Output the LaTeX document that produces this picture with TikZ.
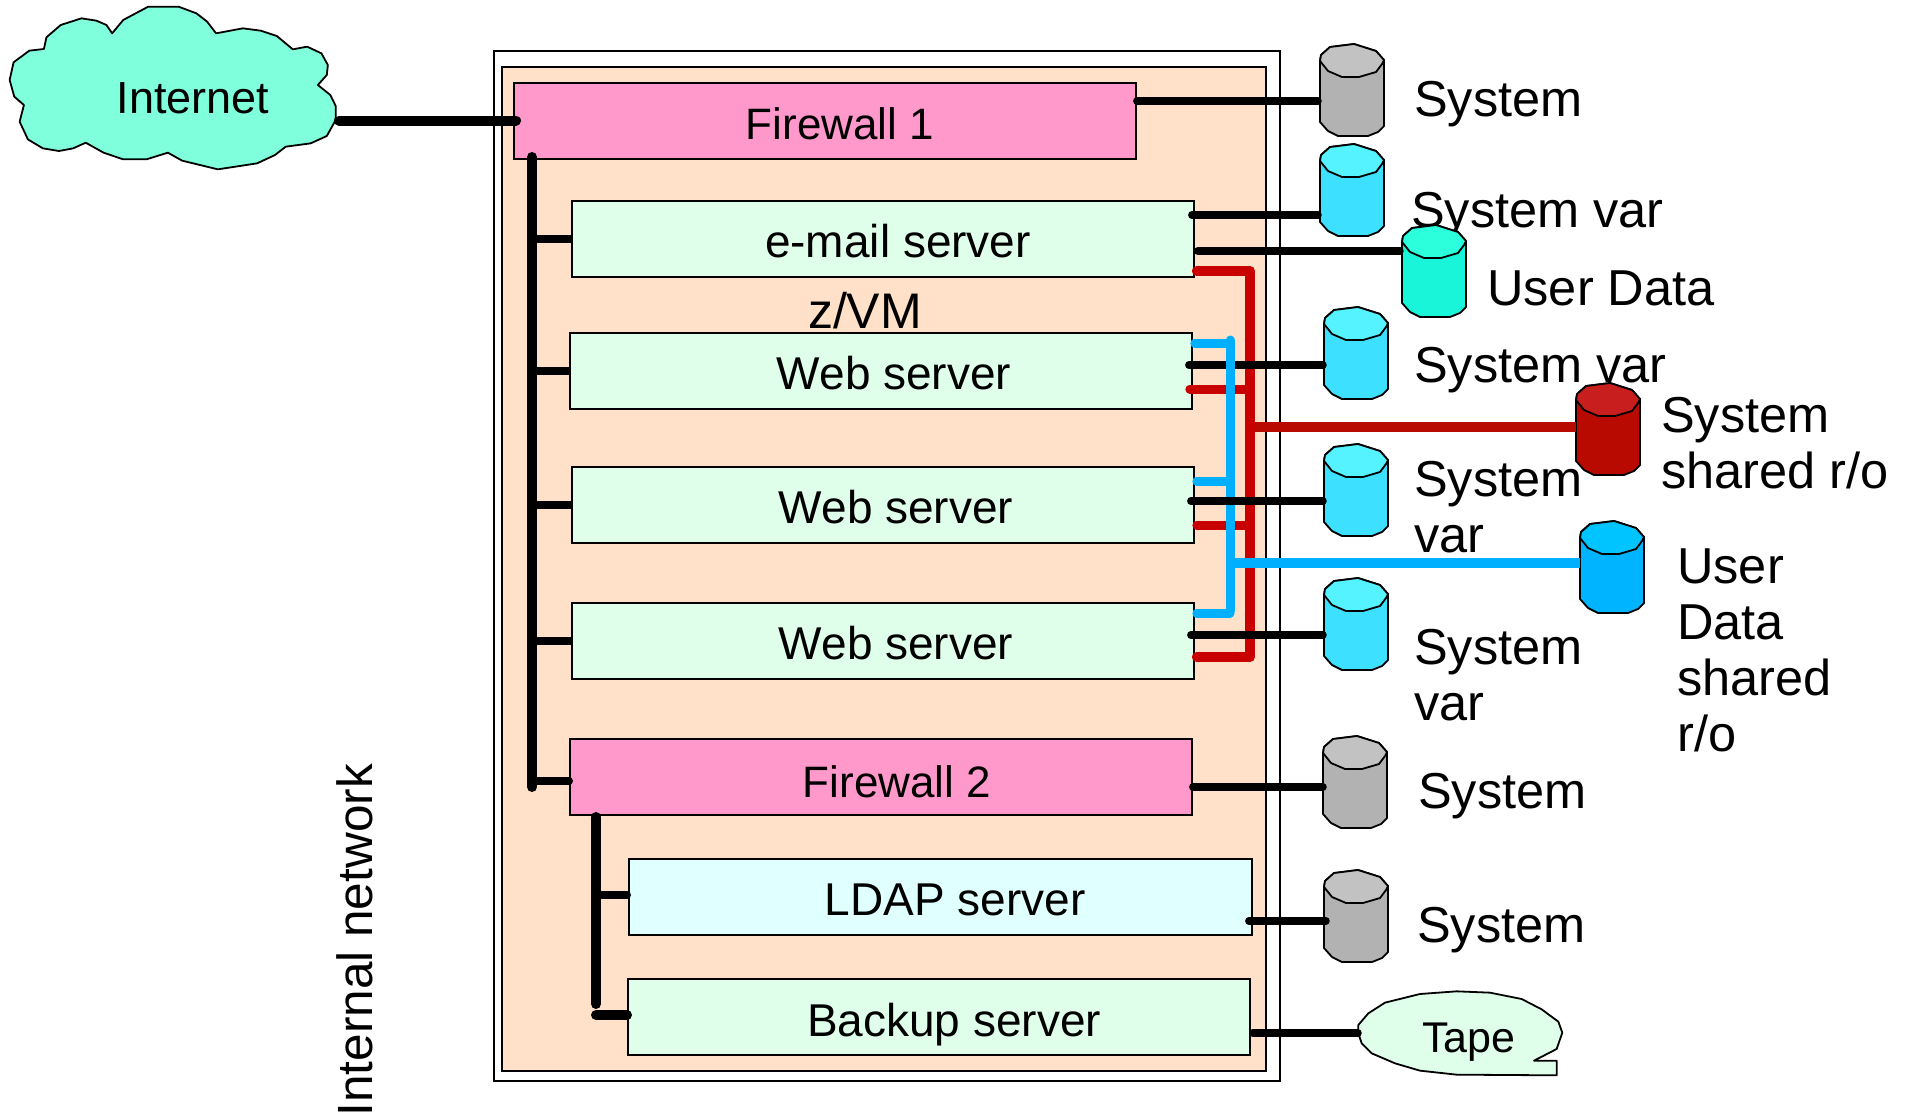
\documentclass[tikz,border=0pt]{standalone}
\usepackage{fontspec}
\setmainfont{Liberation Sans}
\definecolor{peach}{HTML}{FFE0C8}
\definecolor{pinkfw}{HTML}{FF99CC}
\definecolor{mint}{HTML}{E0FFEB}
\definecolor{ice}{HTML}{E0FFFF}
\definecolor{cloudc}{HTML}{80FFDD}
\definecolor{lred}{HTML}{C80000}
\definecolor{dred}{HTML}{B80A00}
\definecolor{lblue}{HTML}{00B0FF}
\definecolor{grayb}{HTML}{B2B2B2}
\definecolor{grayt}{HTML}{C2C2C2}
\definecolor{cyanb}{HTML}{3DE0FF}
\definecolor{cyant}{HTML}{55F2FF}
\definecolor{tealb}{HTML}{18F5D8}
\definecolor{tealt}{HTML}{2CFFDC}
\definecolor{redb}{HTML}{B80A00}
\definecolor{redt}{HTML}{C81E1E}
\definecolor{blueb}{HTML}{00B4FF}
\definecolor{bluet}{HTML}{00C4FF}
\tikzset{
  x=1pt,y=-1pt,
  srv/.style={draw=black,line width=1.8pt,rectangle,inner sep=0pt,anchor=north west,xshift=-1pt,yshift=1pt},
  big/.style={font=\fontsize{50.5}{56}\selectfont,align=left,anchor=base west,inner sep=0pt},
  boxtxt/.style={font=\fontsize{46}{50}\selectfont,anchor=base,inner sep=0pt},
  diskanchor/.style={inner sep=0pt,outer sep=0pt,minimum width=64pt,minimum height=92pt,anchor=north west},
  blk/.style={draw=black,line width=7.5pt,line cap=round,line join=round},
  blkmain/.style={draw=black,line width=10pt,line cap=round},
  blkbus/.style={draw=black,line width=10pt,line cap=round},
  blkbr/.style={draw=black,line width=8pt},
  blkbrr/.style={draw=black,line width=8pt,line cap=round},
  blkbrw/.style={draw=black,line width=10pt,line cap=round},
  rd/.style={draw=lred,line width=9pt,line cap=round,line join=round},
  rdbus/.style={draw=lred,line width=10pt,line cap=round,line join=round},
  rdfeed/.style={draw=dred,line width=10pt},
  bl/.style={draw=lblue,line width=9pt,line cap=round,line join=round},
  blfeed/.style={draw=lblue,line width=10pt},
}
\newcommand{\srvbox}[6]{\node[srv,fill=#6,minimum width=#4pt-#2pt,minimum height=#5pt-#3pt] (#1) at (#2,#3) {};}
% name, left, top, body colour, end colour
\newcommand{\disk}[5]{%
  \node[diskanchor] (#1) at (#2,#3) {};
  \begin{scope}[shift={(#2,#3)}]
    \draw[fill=#4,line width=1.8pt,line join=round] (0,17)--(1,11)--(10,3)--(34,0)--(56,7)--(64,16)--(64,82)--(58,88)--(48,92)--(18,92)--(8,87)--(0,78)--cycle;
    \draw[fill=#5,line width=1.8pt,line join=round] (0,17)--(1,11)--(10,3)--(34,0)--(56,7)--(64,16)--(62,20)--(56,28)--(39,33)--(22,33)--(8,27)--cycle;
  \end{scope}}
\begin{document}
\begin{tikzpicture}
\useasboundingbox (0,0) rectangle (1908,1117);
% frames
\node[srv,fill=white,minimum width=786pt,minimum height=1030pt] (outer) at (494,51) {};
\node[srv,fill=peach,minimum width=764pt,minimum height=1004pt] (inner) at (502,67) {};
% cloud
\begin{scope}[x=0.35714pt,y=-0.33333pt]
\draw[fill=cloudc,line width=1.8pt,line join=round] (27,240)--(38,187)--(82,152)--(123,147)--(130,112)--(170,75)--(228,55)--(270,62)--(298,75)--(314,100)--(345,60)--(415,20)--(500,20)--(550,40)--(580,65)--(605,100)--(680,85)--(730,92)--(775,108)--(820,148)--(860,140)--(900,160)--(918,195)--(915,225)--(890,255)--(925,285)--(940,318)--(940,360)--(915,408)--(870,430)--(800,440)--(770,465)--(720,490)--(610,508)--(510,482)--(470,458)--(410,478)--(345,478)--(290,458)--(240,428)--(205,445)--(165,453)--(120,445)--(78,418)--(55,365)--(67,315)--(40,290)--cycle;
\end{scope}
\node[font=\fontsize{45}{48}\selectfont,anchor=base,inner sep=0pt] (internet) at (193,113) {Internet};
\coordinate (cloudE) at (339,120.5);
% tape
\begin{scope}[x=0.33333pt,y=-0.33333pt,shift={(3600,2550)}]
\draw[fill=mint,line width=1.8pt,line join=round] (475,525)--(505,490)--(555,458)--(660,432)--(770,424)--(870,428)--(965,447)--(1025,478)--(1075,515)--(1087,548)--(1070,597)--(1002,632)--(1070,632)--(1070,676)--(770,674)--(660,662)--(585,640)--(515,610)--(485,580)--(475,550)--cycle;
\end{scope}
\node[font=\fontsize{43}{46}\selectfont,anchor=base,inner sep=0pt] (tape) at (1469,1052) {Tape};
\coordinate (tapeW) at (1358,1033);
% servers
\srvbox{fwa}{514}{83}{1136}{159}{pinkfw}
\srvbox{mail}{572}{201}{1194}{277}{mint}
\srvbox{weba}{570}{333}{1192}{409}{mint}
\srvbox{webb}{572}{467}{1194}{543}{mint}
\srvbox{webc}{572}{603}{1194}{679}{mint}
\srvbox{fwb}{570}{739}{1192}{815}{pinkfw}
\srvbox{ldap}{629}{859}{1252}{935}{ice}
\srvbox{backup}{628}{979}{1250}{1055}{mint}
% box texts
\node[boxtxt,font=\fontsize{44}{50}\selectfont] (tfwa) at (840,139) {Firewall 1};
\node[boxtxt] (tmail) at (898,257) {e-mail server};
\node[boxtxt,font=\fontsize{50}{52}\selectfont] (tzvm) at (865,328) {z/VM};
\node[boxtxt] (tweba) at (894,389) {Web server};
\node[boxtxt] (twebb) at (896,523) {Web server};
\node[boxtxt] (twebc) at (896,659) {Web server};
\node[boxtxt,font=\fontsize{44}{50}\selectfont] (tfwb) at (897,797) {Firewall 2};
\node[boxtxt] (tldap) at (955,915) {LDAP server};
\node[boxtxt] (tbackup) at (954,1036) {Backup server};
% side labels (a block's base is its last line)
\node[big] (lsys) at (1414,116) {System};
\node[big] (lvara) at (1411,227) {System var};
\node[big] (luser) at (1487,305) {User Data};
\node[big] (lvarb) at (1414,382) {System var};
\node[big] (lshared) at (1661,488) {System\\shared r/o};
\node[big] (lvarc) at (1414,552) {System\\var};
\node[big] (luds) at (1677,751) {User\\Data\\shared\\r/o};
\node[big] (lvard) at (1414,720) {System\\var};
\node[big] (lsysb) at (1418,808) {System};
\node[big] (lsysc) at (1417,942) {System};
\node[big,rotate=90,font=\fontsize{49.5}{56}\selectfont] (lnet) at (372,1116.5) {Internal network};
% disks
\disk{dsys}{1320}{44}{grayb}{grayt}
\disk{dvara}{1320}{144}{cyanb}{cyant}
\disk{duser}{1402}{225}{tealb}{tealt}
\disk{dvarb}{1324}{307}{cyanb}{cyant}
\disk{dredd}{1576}{383}{redb}{redt}
\disk{dvarc}{1324}{444}{cyanb}{cyant}
\disk{dblue}{1580}{521}{blueb}{bluet}
\disk{dvard}{1324}{578}{cyanb}{cyant}
\disk{dsysb}{1323}{736}{grayb}{grayt}
\disk{dsysc}{1324}{870}{grayb}{grayt}
% main black
\coordinate (busa) at (532,157);
\coordinate (busaend) at (532,787);
\coordinate (busb) at (596,817);
\coordinate (busbend) at (596,1004);
\draw[blkmain] (cloudE) -- ([xshift=3pt]fwa.west |- cloudE);
\draw[blkbr] (busa |- mail.west) -- ([xshift=1pt]mail.west);
\draw[blkbr] (busa |- weba.west) -- ([xshift=1pt]weba.west);
\draw[blkbr] (busa |- webb.west) -- ([xshift=1pt]webb.west);
\draw[blkbr] (busa |- webc.west) -- ([xshift=1pt]webc.west);
\draw[blkbrr] (busa |- 0,781) -- (fwb.west |- 0,781);
\draw[blkbus] (busa) -- (busaend);
\draw[blkbrr] (busb |- 0,895) -- ([xshift=-1pt]ldap.west |- 0,895);
\draw[blkbrw] (busb |- 0,1015) -- (backup.west |- 0,1015);
\draw[blkbus] (busb) -- (busbend);
% right side black
\draw[blk] (fwa.east |- 0,101) -- ([xshift=-2pt]dsys.west |- 0,101);
\draw[blk] ([xshift=-3pt]mail.east |- 0,215) -- ([xshift=-2pt]dvara.west |- 0,215);
\draw[blk] ([xshift=3pt]mail.east |- 0,251) -- ([xshift=-2pt]duser.west |- 0,251);
% red
\coordinate (rtop) at (1250,271);
\coordinate (rbot) at (1250,657);
\draw[rdfeed] (rtop |- 0,427) -- (dredd.west |- 0,427);
\draw[rd] ([xshift=-3pt]weba.east |- 0,389) -- (rtop |- 0,389);
\draw[rd] ([xshift=2pt]webb.east |- 0,525) -- (rtop |- 0,525);
\draw[rdbus] ([xshift=2pt]mail.east |- rtop) -- (rtop) -- (rbot) -- ([xshift=2pt]webc.east |- rbot);
% black on first web line lies under the blue
\draw[blk] ([xshift=-4pt]weba.east |- 0,365) -- ([xshift=-1pt]dvarb.west |- 0,365);
% blue
\coordinate (btop) at (1230,340);
\coordinate (bbot) at (1230,611);
\draw[blfeed] (btop |- 0,563) -- (dblue.west |- 0,563);
\draw[bl] ([xshift=2pt]weba.east |- 0,343) -- (btop |- 0,343);
\draw[bl] ([xshift=2pt]webb.east |- 0,481) -- (btop |- 0,481);
\draw[bl] ([xshift=2pt]webc.east |- 0,613) -- (btop |- 0,613);
\draw[bl] (btop) -- (bbot);
\draw[blk] ([xshift=-4pt]webb.east |- 0,501) -- ([xshift=-1pt]dvarc.west |- 0,501);
\draw[blk] ([xshift=-4pt]webc.east |- 0,635) -- ([xshift=-1pt]dvard.west |- 0,635);
% lower black
\draw[blk] (fwb.east |- 0,787) -- (dsysb.west |- 0,787);
\draw[blk] ([xshift=-4pt]ldap.east |- 0,921) -- ([xshift=2pt]dsysc.west |- 0,921);
\draw[blk] ([xshift=2pt]backup.east |- 0,1033) -- (tapeW);
\end{tikzpicture}
\end{document}
